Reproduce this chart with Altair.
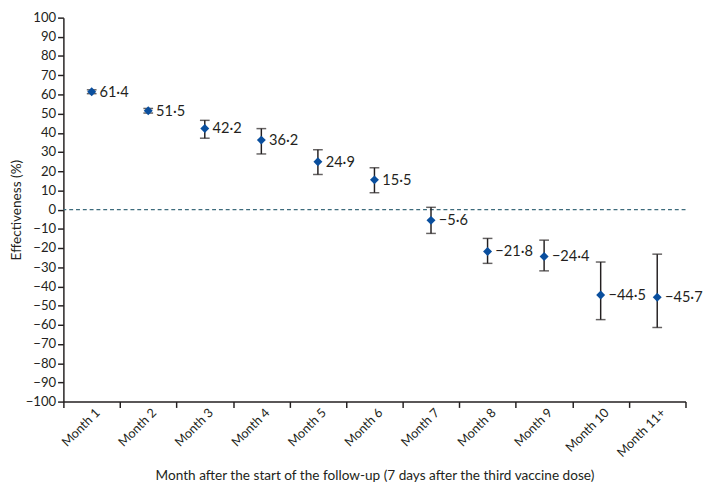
import altair as alt
import pandas as pd

months = ["Month 1", "Month 2", "Month 3", "Month 4", "Month 5", "Month 6",
          "Month 7", "Month 8", "Month 9", "Month 10", "Month 11+"]
effect = [61.4, 51.5, 42.2, 36.2, 24.9, 15.5, -5.6, -21.8, -24.4, -44.5, -45.7]
ci_low = [60.4, 50.3, 37.2, 29.0, 18.3, 8.8, -12.4, -28.0, -31.9, -57.3, -61.4]
ci_high = [62.4, 52.7, 46.5, 42.2, 31.2, 21.8, 1.2, -15.0, -15.9, -27.3, -23.2]
y_ticks = list(range(-100, 101, 10))

df = pd.DataFrame({"month": months, "eff": effect, "lo": ci_low, "hi": ci_high})

FONT = "Lato"
INK = "#231f20"
H = 395

x = alt.X("month:N", sort=months,
          scale=alt.Scale(paddingInner=0, paddingOuter=0),
          axis=alt.Axis(title="Month after the start of the follow-up (7 days after the third vaccine dose)",
                        labelAngle=-45, labelAlign="right", labelBaseline="middle",
                        labelFontSize=13, tickBand="extent", labelPadding=3, labelOffset=6,
                        titleY=76, titleBaseline="middle"))
y_axis = alt.Axis(values=y_ticks, title="Effectiveness (%)", labelPadding=2,
                  titleX=-48, titleY=H / 2, titleBaseline="middle", titleAlign="center", titleAngle=270)
yscale = alt.Scale(domain=[-100, 100], nice=False)

base = alt.Chart(df)

zero = alt.Chart(pd.DataFrame({"z": [0]})).mark_rule(
    color="#3d6b7c", strokeDash=[4, 3], strokeWidth=1.5
).encode(y=alt.Y("z:Q", scale=yscale, axis=y_axis))

bars = base.mark_rule(color=INK, strokeWidth=1.5).encode(
    x=x, y=alt.Y("lo:Q", scale=yscale, axis=y_axis), y2="hi:Q")
cap_lo = base.mark_tick(color=INK, size=10, thickness=1.5).encode(x=x, y=alt.Y("lo:Q", scale=yscale, axis=y_axis))
cap_hi = base.mark_tick(color=INK, size=10, thickness=1.5).encode(x=x, y=alt.Y("hi:Q", scale=yscale, axis=y_axis))
pts = base.mark_point(shape="diamond", filled=True, size=85, color="#0a4f9e", opacity=1).encode(
    x=x, y=alt.Y("eff:Q", scale=yscale, axis=y_axis))
labels = base.transform_calculate(
    lab="replace(format(datum.eff, '.1f'), '.', '·')"
).mark_text(align="left", baseline="middle", dx=8, font=FONT, fontSize=15, color=INK).encode(
    x=x, y=alt.Y("eff:Q", scale=yscale, axis=y_axis), text="lab:N")

chart = alt.layer(zero, bars, cap_lo, cap_hi, pts, labels).properties(
    width=640, height=H, padding={"left": 2, "top": -4, "right": 0, "bottom": 0}
).configure_view(stroke=None).configure_axis(
    grid=False, domainColor=INK, domainWidth=1.5, tickColor=INK, tickWidth=1.5, tickSize=6,
    labelColor=INK, labelFont=FONT, labelFontSize=13.5, titleFont=FONT, titleFontSize=14,
    titleFontWeight="normal", titleColor=INK
)

chart.save("out.html", embed_options={"renderer": "svg", "actions": False})
